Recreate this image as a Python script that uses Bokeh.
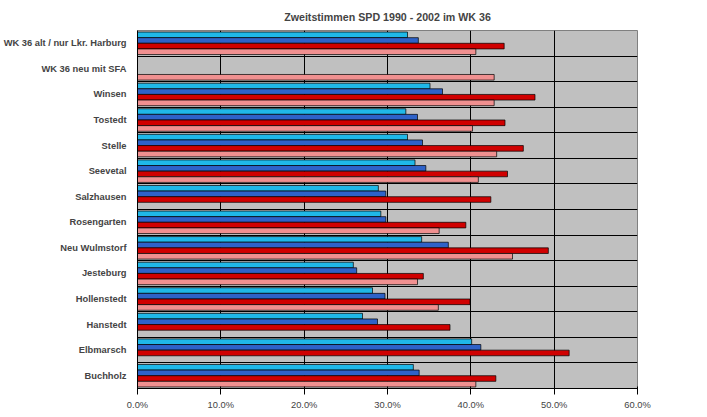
from bokeh.plotting import figure
from bokeh.models import ColumnDataSource, FactorRange, Legend, LegendItem, NumeralTickFormatter, FixedTicker
from bokeh.transform import dodge
from bokeh.embed import file_html
from bokeh.resources import INLINE

cats = ["WK 36 alt / nur Lkr. Harburg", "WK 36 neu mit SFA", "Winsen", "Tostedt", "Stelle",
        "Seevetal", "Salzhausen", "Rosengarten", "Neu Wulmstorf", "Jesteburg", "Hollenstedt",
        "Hanstedt", "Elbmarsch", "Buchholz"]
nan = float("nan")
v1990 = [32.4, nan, 35.1, 32.2, 32.4, 33.3, 28.9, 29.2, 34.1, 25.9, 28.2, 27.0, 40.1, 33.1]
v1994 = [33.7, nan, 36.6, 33.6, 34.2, 34.6, 29.8, 29.8, 37.3, 26.3, 29.7, 28.8, 41.2, 33.8]
v1998 = [44.0, nan, 47.7, 44.1, 46.3, 44.4, 42.4, 39.4, 49.3, 34.3, 39.9, 37.5, 51.8, 43.0]
v2002 = [40.6, 42.8, 42.8, 40.2, 43.1, 40.9, nan, 36.2, 45.0, 33.6, 36.1, nan, nan, 40.6]
years = ["1990", "1994", "1998", "2002"]
colors = ["#1FB8E8", "#2E62C8", "#D00000", "#F09090"]

src = ColumnDataSource(dict(cat=cats, v1990=[x / 100 for x in v1990], v1994=[x / 100 for x in v1994],
                            v1998=[x / 100 for x in v1998], v2002=[x / 100 for x in v2002]))

p = figure(y_range=FactorRange(*reversed(cats)), x_range=(0, 0.6), frame_width=500, frame_height=358,
           output_backend="svg", toolbar_location=None, min_border_left=2, min_border_top=2,
           min_border_right=2, min_border_bottom=2,
           title="Zweitstimmen SPD 1990 - 2002 im WK 36")
p.title.align = "center"
p.title.text_font = "Liberation Sans"
p.title.text_font_size = "8pt"
p.title.offset = 60
p.title.standoff = 16
p.background_fill_color = "#C0C0C0"
p.outline_line_color = "#808080"
p.xgrid.grid_line_color = "black"
p.xgrid.ticker = FixedTicker(ticks=[0, 0.1, 0.2, 0.3, 0.4, 0.5, 0.6])
p.ygrid.grid_line_color = None
p.xaxis.ticker = FixedTicker(ticks=[0, 0.1, 0.2, 0.3, 0.4, 0.5, 0.6])
p.xaxis.formatter = NumeralTickFormatter(format="0.0%")
for ax in (p.xaxis, p.yaxis):
    ax.major_label_text_font = "Liberation Sans"
    ax.major_label_text_font_size = "7pt"
    ax.axis_line_color = "black"
    ax.major_tick_line_color = "black"
    ax.minor_tick_line_color = None
p.yaxis.major_label_text_font_style = "bold"
p.yaxis.major_tick_line_color = None

p.hspan(y=dodge("cat", -0.5, range=p.y_range), source=src, line_color="black", line_width=1)

offs = [0.33, 0.11, -0.11, -0.33]
items = []
for y, c, o in zip(years, colors, offs):
    r = p.hbar(y=dodge("cat", o, range=p.y_range), right="v" + y, left=0, height=0.22, source=src,
               fill_color=c, line_color="black", line_width=0.7)
    items.append(LegendItem(label=y, renderers=[r]))

leg = Legend(items=items, location="center", label_text_font="Liberation Serif", label_text_font_size="7pt",
             glyph_width=7, glyph_height=7, spacing=2, padding=3, margin=14, border_line_color="black",
             label_height=10, label_standoff=3)
p.add_layout(leg, "right")

open("out.html", "w").write(file_html(p, INLINE))
